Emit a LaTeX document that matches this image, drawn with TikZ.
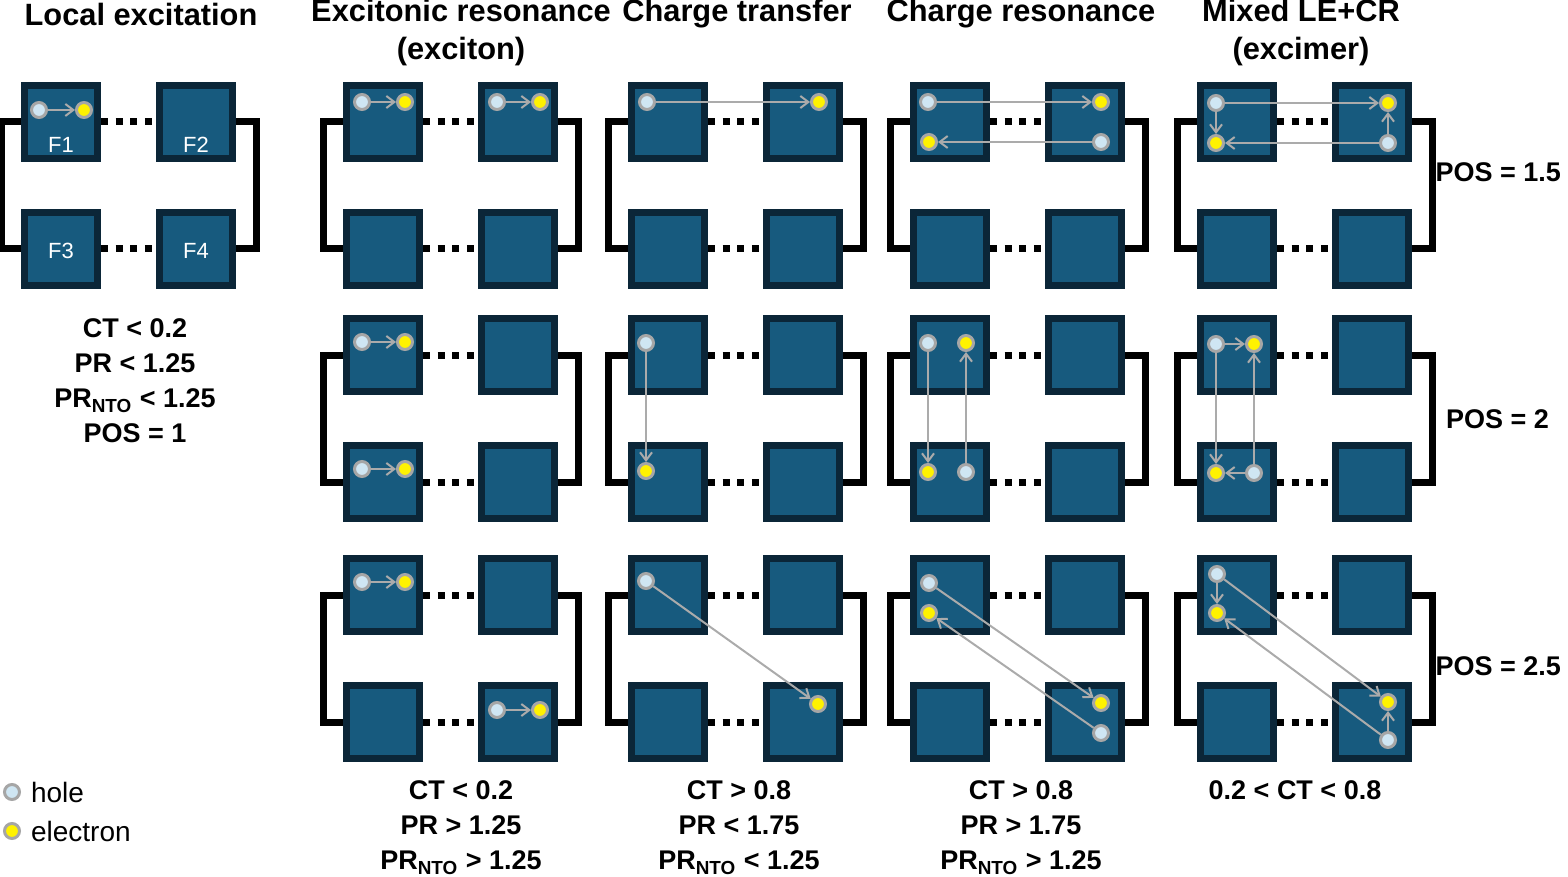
\documentclass[tikz,border=0pt]{standalone}
\usepackage{fontspec}
\setmainfont{Liberation Sans}
\usetikzlibrary{arrows.meta}
\definecolor{frag}{HTML}{175A7E}
\definecolor{fragedge}{HTML}{0B2638}
\definecolor{holefill}{HTML}{CFE6F3}
\definecolor{dotedge}{HTML}{A6A6A6}
\definecolor{hopgray}{HTML}{ABABAB}
\begin{document}
\begin{tikzpicture}[x=0.5pt, y=-0.5pt]
\tikzset{
    frag/.style={rectangle, draw=fragedge, fill=frag, line width=3.5pt, minimum size=36.5pt, inner sep=0pt, text=white, font=\fontsize{11}{11}\selectfont},
    link/.style={line width=3.5pt, black},
    stack/.style={line width=3.5pt, black, dash pattern=on 3.5pt off 3.8pt},
    hole/.style={circle, draw=dotedge, fill=holefill, line width=1.5pt, minimum size=7.5pt, inner sep=0pt},
    elec/.style={circle, draw=dotedge, fill=yellow, line width=1.5pt, minimum size=7.5pt, inner sep=0pt},
    hop/.style={draw=hopgray, line width=1pt, -{Straight Barb[length=4pt, width=6pt]}},
    title/.style={font=\bfseries\fontsize{15.4}{19}\selectfont, align=center},
    crit/.style={font=\bfseries\fontsize{13.5}{17.5}\selectfont, align=center}
}
\useasboundingbox (0,0) rectangle (1568,877);

% four fragments, stacking and linkers of one panel
\newcommand{\panel}[3]{%
  \node[frag] (#1a) at (#2,#3) {};
  \node[frag] (#1b) at (#2+135,#3) {};
  \node[frag] (#1c) at (#2,#3+127) {};
  \node[frag] (#1d) at (#2+135,#3+127) {};
  \draw[stack] (#1a.east) -- (#1b.west);
  \draw[stack] (#1c.east) -- (#1d.west);
  \draw[link] (#1a.west) -- ++(-20,0) |- (#1c.west);
  \draw[link] (#1b.east) -- ++(20,0) |- (#1d.east);
}

% panels
\panel{le}{61}{122}
\foreach \col/\x in {ex/383, ct/668, cr/950, mx/1237}{
  \foreach \row/\y in {1/122, 2/355, 3/595}{
    \panel{\col\row}{\x}{\y}
  }
}

% fragment labels
\node[text=white, font=\fontsize{11}{11}\selectfont] (lbl1) at (61,145) {F1};
\node[text=white, font=\fontsize{11}{11}\selectfont] (lbl2) at (196,145) {F2};
\node[text=white, font=\fontsize{11}{11}\selectfont] (lbl3) at (61,251) {F3};
\node[text=white, font=\fontsize{11}{11}\selectfont] (lbl4) at (196,251) {F4};

% local excitation
\node[hole] (leh) at (39,110) {};
\node[elec] (lee) at (84,110) {};
\draw[hop] (leh) -- (lee);

% excitonic resonance
\node[hole] (ex1h1) at (362,102) {}; \node[elec] (ex1e1) at (405,102) {};
\node[hole] (ex1h2) at (497,102) {}; \node[elec] (ex1e2) at (540,102) {};
\node[hole] (ex2h1) at (362,342) {}; \node[elec] (ex2e1) at (405,342) {};
\node[hole] (ex2h2) at (362,469) {}; \node[elec] (ex2e2) at (405,469) {};
\node[hole] (ex3h1) at (362,582) {}; \node[elec] (ex3e1) at (405,582) {};
\node[hole] (ex3h2) at (497,710) {}; \node[elec] (ex3e2) at (540,710) {};
\foreach \h/\e in {ex1h1/ex1e1, ex1h2/ex1e2, ex2h1/ex2e1, ex2h2/ex2e2, ex3h1/ex3e1, ex3h2/ex3e2}{
  \draw[hop] (\h) -- (\e);
}

% charge transfer
\node[hole] (ct1h) at (647,102) {}; \node[elec] (ct1e) at (819,102) {};
\node[hole] (ct2h) at (646,343) {}; \node[elec] (ct2e) at (646,471) {};
\node[hole] (ct3h) at (646,581) {}; \node[elec] (ct3e) at (818,704) {};
\draw[hop] (ct1h) -- (ct1e);
\draw[hop] (ct2h) -- (ct2e);
\draw[hop] (ct3h) -- (ct3e);

% charge resonance
\node[hole] (cr1h1) at (928,102) {}; \node[elec] (cr1e1) at (1101,102) {};
\node[hole] (cr1h2) at (1101,142) {}; \node[elec] (cr1e2) at (929,142) {};
\node[hole] (cr2h1) at (928,343) {}; \node[elec] (cr2e1) at (928,472) {};
\node[hole] (cr2h2) at (966,472) {}; \node[elec] (cr2e2) at (966,343) {};
\node[hole] (cr3h1) at (929,583) {}; \node[elec] (cr3e1) at (1101,703) {};
\node[hole] (cr3h2) at (1101,733) {}; \node[elec] (cr3e2) at (929,613) {};
\draw[hop] (cr1h1) -- (cr1e1);
\draw[hop] (cr1h2) -- (cr1e2);
\draw[hop] (cr2h1) -- (cr2e1);
\draw[hop] (cr2h2) -- (cr2e2);
\draw[hop] (cr3h1) -- (cr3e1);
\draw[hop] (cr3h2) -- (cr3e2);

% mixed LE+CR
\node[hole] (mx1h1) at (1216,103) {}; \node[elec] (mx1e1) at (1388,103) {};
\node[hole] (mx1h2) at (1388,143) {}; \node[elec] (mx1e2) at (1216,143) {};
\node[hole] (mx2h1) at (1216,344) {}; \node[elec] (mx2e1) at (1254,344) {};
\node[hole] (mx2h2) at (1254,473) {}; \node[elec] (mx2e2) at (1216,473) {};
\node[hole] (mx3h1) at (1217,574) {}; \node[elec] (mx3e1) at (1388,702) {};
\node[hole] (mx3h2) at (1388,740) {}; \node[elec] (mx3e2) at (1217,613) {};
\draw[hop] (mx1h1) -- (mx1e1);
\draw[hop] (mx1h1) -- (mx1e2);
\draw[hop] (mx1h2) -- (mx1e2);
\draw[hop] (mx1h2) -- (mx1e1);
\draw[hop] (mx2h1) -- (mx2e1);
\draw[hop] (mx2h1) -- (mx2e2);
\draw[hop] (mx2h2) -- (mx2e2);
\draw[hop] (mx2h2) -- (mx2e1);
\draw[hop] (mx3h1) -- (mx3e1);
\draw[hop] (mx3h1) -- (mx3e2);
\draw[hop] (mx3h2) -- (mx3e2);
\draw[hop] (mx3h2) -- (mx3e1);

% titles
\node[title] (tle) at (141,14) {Local excitation};
\node[title] (tex) at (461,33) {Excitonic resonance\\(exciton)};
\node[title] (tct) at (737,14) {Charge transfer};
\node[title] (tcr) at (1021,14) {Charge resonance};
\node[title] (tmx) at (1301,33) {Mixed LE+CR\\(excimer)};

% criteria
\node[crit, anchor=north] (cle) at (135,312) {CT < 0.2\\PR < 1.25\\PR\textsubscript{NTO} < 1.25\\POS = 1};
\node[crit, anchor=north] (cex) at (461,774) {CT < 0.2\\PR > 1.25\\PR\textsubscript{NTO} > 1.25};
\node[crit, anchor=north] (cct) at (739,774) {CT > 0.8\\PR < 1.75\\PR\textsubscript{NTO} < 1.25};
\node[crit, anchor=north] (ccr) at (1021,774) {CT > 0.8\\PR > 1.75\\PR\textsubscript{NTO} > 1.25};
\node[crit, anchor=north] (cmx) at (1295,774) {0.2 < CT < 0.8};
\node[crit, anchor=east] (pos1) at (1568,172) {POS = 1.5};
\node[crit, anchor=east] (pos2) at (1556,419) {POS = 2};
\node[crit, anchor=east] (pos3) at (1568,666) {POS = 2.5};

% legend
\node[hole] (keyh) at (12,792) {};
\node[elec] (keye) at (12,831) {};
\node[anchor=west, font=\fontsize{14}{14}\selectfont] (keyht) at (24,792) {hole};
\node[anchor=west, font=\fontsize{14}{14}\selectfont] (keyet) at (24,831) {electron};
\end{tikzpicture}
\end{document}
